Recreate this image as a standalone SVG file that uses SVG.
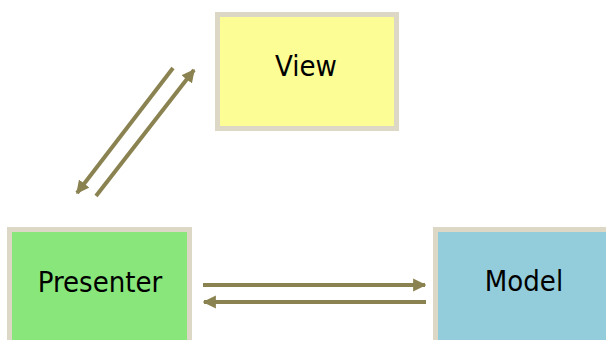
<svg xmlns="http://www.w3.org/2000/svg" width="606" height="340" viewBox="0 0 606 340">
<style>
.box{stroke:#ddd8c6;stroke-width:5}
.lbl{font-family:"DejaVu Sans Condensed","DejaVu Sans",Verdana,sans-serif;font-stretch:condensed;font-size:29px;fill:#000;text-anchor:middle}
.conn{stroke:#8a8250;stroke-width:4;fill:none;marker-end:url(#ah)}
</style>
<defs>
<marker id="ah" viewBox="0 0 10 10" refX="9" refY="5" markerWidth="3.3" markerHeight="3.4" orient="auto" markerUnits="strokeWidth">
<path d="M0,0 L10,5 L0,10 z" fill="#8a8250"/>
</marker>
</defs>
<rect width="606" height="340" fill="#fff"/>
<g id="view">
<rect class="box" x="217.5" y="14.5" width="179" height="114" fill="#fdfd96"/>
<text class="lbl" x="306" y="76">View</text>
</g>
<g id="presenter">
<rect class="box" x="9.5" y="229.5" width="180" height="120" fill="#88e67a"/>
<text class="lbl" x="100" y="292">Presenter</text>
</g>
<g id="model">
<rect class="box" x="435.5" y="229.5" width="180" height="120" fill="#93cddb"/>
<text class="lbl" x="524" y="291">Model</text>
</g>
<g id="connectors">
<line class="conn" x1="173" y1="68" x2="77" y2="193"/>
<line class="conn" x1="96" y1="196" x2="194" y2="70"/>
<line class="conn" x1="203" y1="285" x2="425" y2="285"/>
<line class="conn" x1="426" y1="302" x2="204" y2="302"/>
</g>
</svg>
